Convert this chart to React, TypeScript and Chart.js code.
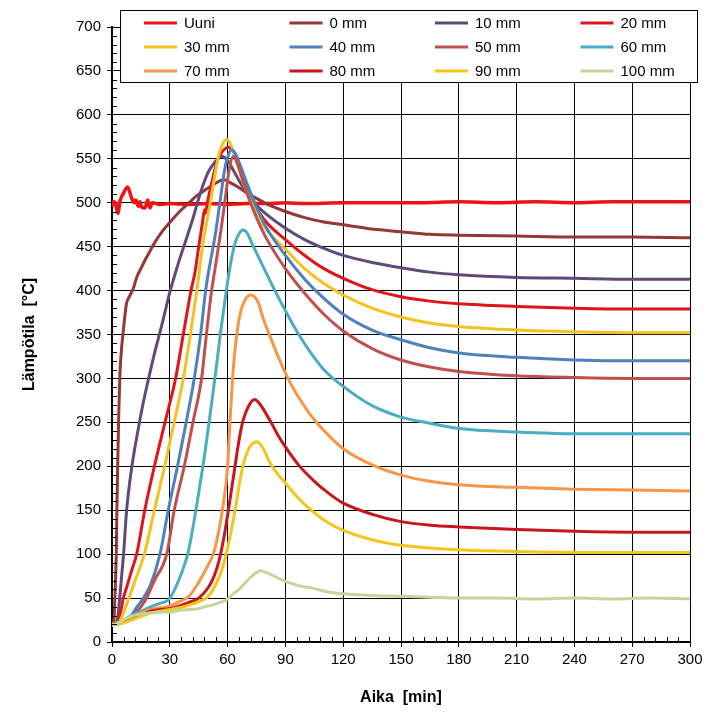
import React, { useEffect, useRef } from 'react';
import { Chart, registerables } from 'chart.js';

Chart.register(...registerables);

const FONT = '"Liberation Sans", Arial, Helvetica, sans-serif';

// ---------- data ----------
const SERIES_LABELS = ['Uuni', '0 mm', '10 mm', '20 mm', '30 mm', '40 mm', '50 mm', '60 mm', '70 mm', '80 mm', '90 mm', '100 mm'];
const SERIES_COLORS = ['#F21111', '#953735', '#604A7B', '#E0141B', '#F4C21F', '#4F81BD', '#C0504D', '#4BACC6', '#F79646', '#C8161E', '#F5C518', '#C3D69B'];

const X_TICKS = [0, 30, 60, 90, 120, 150, 180, 210, 240, 270, 300];
const Y_TICKS = [0, 50, 100, 150, 200, 250, 300, 350, 400, 450, 500, 550, 600, 650, 700];

const UUNI_T = [0, 0.5, 1.7, 3, 4.3, 6, 8.1, 10.2, 11.6, 12.3, 13.7, 14.5, 15.4, 17.1, 18.5, 19.7, 20.9, 25, 30, 40, 50, 60, 70, 80, 90, 100, 120, 140, 160, 180, 200, 220, 240, 260, 280, 300];
const UUNI_V = [495, 501, 500, 488, 503, 511, 518, 505, 500, 503, 496, 501, 495, 494, 503, 494, 500, 498, 499, 498, 499, 498, 499, 499, 500, 499, 500, 500, 500, 501, 500, 501, 500, 501, 501, 501];

const MM0_T = [0, 1, 1.5, 2.2, 2.6, 3, 3.5, 4.1, 5, 6, 7.5, 9, 11, 13, 15, 17, 19, 22, 26, 31, 36, 40, 44, 48, 53, 58, 62, 66, 70, 75, 80, 90, 100, 110, 120, 135, 150, 165, 180, 210, 240, 270, 300];
const MM0_V = [20, 25, 50, 100, 160, 205, 260, 305, 335, 357, 385, 393, 402, 416, 425, 434, 442, 454, 467, 480, 492, 500, 508, 514, 521, 526, 522, 517, 511, 505, 499, 490, 483, 478, 475, 470, 467, 464, 463, 462, 461, 461, 460];

const MM10_T = [0, 2, 3, 4, 5, 6, 7.6, 10, 13, 16, 19, 22, 26, 30, 34, 38, 42, 46, 50, 53.4, 57, 60, 63, 66, 70, 75, 80, 90, 100, 110, 120, 135, 150, 165, 180, 210, 240, 270, 300];
const MM10_V = [20, 21, 28, 50, 75, 100, 150, 195, 235, 270, 300, 328, 362, 398, 428, 455, 482, 512, 535, 546, 553, 548, 537, 525, 511, 497, 487, 471, 458, 448, 440, 432, 426, 421, 418, 415, 414, 413, 413];

const MM20_T = [0, 2, 4, 5.9, 8, 10, 12.8, 17, 22, 27.5, 33, 37, 41, 43, 45, 47, 48, 48.5, 49.5, 52, 55, 58, 60.5, 62.5, 64.5, 67, 70, 75, 80, 90, 100, 110, 120, 135, 150, 165, 180, 210, 240, 270, 300];
const MM20_V = [20, 20, 30, 50, 65, 80, 100, 150, 200, 250, 300, 350, 400, 420, 450, 478, 492, 488, 500, 525, 550, 560, 563, 560, 550, 533, 515, 494, 478, 458, 440, 425, 414, 401, 393, 388, 385, 382, 380, 379, 379];

const MM30_T = [0, 3, 5, 8.8, 12, 16.8, 22, 27.3, 32.3, 37, 40.7, 44, 47, 51, 55, 57, 59.5, 61.5, 63.5, 66, 70, 75, 80, 90, 100, 110, 120, 135, 150, 165, 180, 210, 240, 270, 300];
const MM30_V = [20, 20, 28, 50, 70, 100, 150, 200, 250, 300, 350, 400, 450, 500, 550, 565, 572, 567, 555, 537, 512, 488, 470, 447, 425, 408, 395, 380, 370, 363, 359, 355, 353, 352, 352];

const MM40_T = [0, 5, 10, 13, 16.3, 20, 24.9, 29.2, 34, 38.5, 42.7, 46, 48.6, 51, 53.5, 56, 58.5, 60.5, 62, 64, 67, 70, 75, 80, 90, 100, 110, 120, 135, 150, 165, 180, 210, 240, 270, 300];
const MM40_V = [20, 22, 30, 40, 50, 65, 100, 150, 200, 250, 300, 350, 400, 432, 462, 500, 538, 555, 560, 556, 540, 522, 495, 472, 440, 413, 391, 373, 355, 344, 335, 329, 324, 321, 320, 320];

const MM50_T = [0, 5, 10, 15, 17.9, 22, 28.4, 32.3, 37.5, 42, 46.5, 49, 51.7, 54, 56.5, 58.8, 61, 63, 65, 68, 71, 75, 80, 90, 100, 110, 120, 135, 150, 165, 180, 210, 240, 270, 300];
const MM50_V = [20, 22, 28, 40, 50, 70, 100, 150, 200, 250, 300, 350, 400, 432, 468, 505, 540, 553, 545, 525, 505, 483, 460, 425, 397, 373, 354, 334, 321, 313, 308, 303, 301, 300, 300];

const MM60_T = [0, 5, 10, 15, 20, 25, 28, 30, 33, 36, 39.3, 42, 45, 48, 51, 54, 56.5, 59, 61.5, 64, 66, 68, 70, 73, 78.5, 85, 90, 95, 101, 110, 120, 135, 150, 165, 180, 210, 240, 270, 300];
const MM60_V = [20, 24, 30, 35, 40, 44, 46, 50, 62, 78, 100, 130, 170, 212, 260, 310, 355, 395, 430, 455, 465, 469, 466, 452, 427, 398, 377, 357, 336, 310, 291, 269, 256, 249, 243, 239, 237, 237, 237];

const MM70_T = [0, 5, 10, 15, 20, 25, 30, 35, 40, 45, 50, 52.6, 55, 57.3, 60, 61.2, 62.6, 64.2, 66, 68.5, 72, 74, 76, 78.5, 82, 86, 90, 95, 100, 105, 112, 120, 135.6, 150, 165, 180, 210, 240, 270, 300];
const MM70_V = [20, 23, 28, 33, 37, 39, 41, 46, 52, 68, 88, 100, 122, 150, 200, 250, 300, 340, 368, 387, 395, 393, 386, 368, 348, 326, 306, 285, 268, 253, 236, 220, 201, 190, 183, 179, 176, 174, 173, 172];

const MM80_T = [0, 5, 10, 15, 20, 25, 30, 35, 40, 45, 50, 53, 55.5, 58, 60.4, 63.5, 65.8, 68, 71, 74, 77, 82, 86, 90, 97, 104.5, 112, 120, 135.6, 150, 165, 180, 210, 240, 270, 300];
const MM80_V = [20, 22, 27, 31, 35, 37, 38, 41, 45, 50, 62, 75, 92, 118, 150, 195, 228, 252, 269, 276, 270, 252, 236, 222, 201, 184, 170, 158, 145, 137, 133, 131, 128, 126, 125, 125];

const MM90_T = [0, 5, 10, 15, 20, 25, 30, 35, 40, 45, 50, 54, 57, 59.5, 62, 64.5, 66.5, 68.5, 71, 75, 78, 82, 86, 90, 97, 104.5, 112, 120, 135.6, 150, 165, 180, 210, 240, 270, 300];
const MM90_V = [20, 21, 25, 29, 33, 35, 37, 39, 42, 46, 52, 66, 82, 102, 128, 158, 185, 205, 220, 228, 222, 204, 191, 181, 163, 148, 136, 127, 116, 110, 107, 105, 103, 102, 102, 102];

const MM100_T = [0, 2, 5, 10, 15, 20, 25, 30, 35, 40, 45, 48, 52, 56, 60, 63, 66, 69, 72, 75, 77, 80, 85, 90, 97, 104.5, 112, 120, 135, 150, 165, 180, 200, 220, 240, 260, 280, 300];
const MM100_V = [18, 20, 24, 29, 32, 33, 34, 34, 36, 37, 38, 40, 42, 45, 49, 55, 60, 67, 74, 79, 81, 79, 74, 69, 64, 61, 57, 55, 53, 52, 51, 50, 50, 49, 50, 49, 50, 49];

const SERIES_T = [UUNI_T, MM0_T, MM10_T, MM20_T, MM30_T, MM40_T, MM50_T, MM60_T, MM70_T, MM80_T, MM90_T, MM100_T];
const SERIES_V = [UUNI_V, MM0_V, MM10_V, MM20_V, MM30_V, MM40_V, MM50_V, MM60_V, MM70_V, MM80_V, MM90_V, MM100_V];

// ---------- plugins ----------
const minorTicks = {
  id: 'minorTicks',
  afterDatasetsDraw(chart: any) {
    const { ctx, scales, chartArea } = chart;
    const x = scales.x;
    const y = scales.y;
    ctx.save();
    ctx.strokeStyle = '#000';
    ctx.lineWidth = 1;
    ctx.beginPath();
    for (let v = 10; v < 700; v += 10) {
      if (v % 50 === 0) continue;
      const py = Math.round(y.getPixelForValue(v)) + 0.5;
      ctx.moveTo(chartArea.left, py);
      ctx.lineTo(chartArea.left + 5, py);
    }
    for (let v = 6; v < 300; v += 6) {
      if (v % 30 === 0) continue;
      const px = Math.round(x.getPixelForValue(v)) + 0.5;
      ctx.moveTo(px, chartArea.bottom);
      ctx.lineTo(px, chartArea.bottom - 5);
    }
    ctx.stroke();
    ctx.restore();
  },
};

const boxLegend = {
  id: 'boxLegend',
  afterDraw(chart: any) {
    const { ctx } = chart;
    ctx.save();
    ctx.fillStyle = '#fff';
    ctx.fillRect(120, 10, 577, 72);
    ctx.strokeStyle = '#000';
    ctx.lineWidth = 1;
    ctx.strokeRect(120.5, 10.5, 577, 72);
    ctx.font = '15px ' + FONT;
    ctx.textBaseline = 'middle';
    ctx.textAlign = 'left';
    chart.data.datasets.forEach((ds: any, i: number) => {
      const col = i % 4;
      const row = Math.floor(i / 4);
      const x0 = 144 + col * 145.5;
      const y0 = 23 + row * 24;
      ctx.strokeStyle = ds.borderColor;
      ctx.lineWidth = 3;
      ctx.beginPath();
      ctx.moveTo(x0, y0);
      ctx.lineTo(x0 + 33, y0);
      ctx.stroke();
      ctx.fillStyle = '#000';
      ctx.fillText(ds.label, x0 + 40, y0 + 1);
    });
    ctx.restore();
  },
};

export default function App() {
  const ref = useRef<HTMLCanvasElement>(null);
  useEffect(() => {
    if (!ref.current) return;
    const datasets = SERIES_LABELS.map((label, i) => ({
      label,
      data: SERIES_T[i].map((t, k) => ({ x: t, y: SERIES_V[i][k] })),
      borderColor: SERIES_COLORS[i],
      backgroundColor: SERIES_COLORS[i],
      borderWidth: i === 0 ? 3.5 : 3,
      pointRadius: 0,
      fill: false,
      cubicInterpolationMode: 'monotone' as const,
      order: SERIES_LABELS.length - i,
    }));
    const chart = new Chart(ref.current, {
      type: 'line',
      data: { datasets },
      options: {
        responsive: false,
        animation: false,
        devicePixelRatio: 1,
        layout: { padding: { top: 27, right: 27, left: 0, bottom: 0 } },
        plugins: { legend: { display: false }, tooltip: { enabled: false } },
        scales: {
          x: {
            type: 'linear',
            min: 0,
            max: 300,
            afterBuildTicks: (s: any) => { s.ticks = X_TICKS.map((v) => ({ value: v })); },
            afterFit: (s: any) => { s.height = 85; },
            ticks: { font: { size: 15, family: FONT }, color: '#000', padding: 4, maxRotation: 0 },
            grid: { color: '#000', lineWidth: 1, tickLength: 5, tickColor: '#000' },
            border: { color: '#000', width: 2 },
            title: { display: true, text: 'Aika  [min]', color: '#000', font: { size: 16, weight: 'bold', family: FONT }, padding: { top: 0, bottom: 20 } },
          },
          y: {
            type: 'linear',
            min: 0,
            max: 700,
            afterBuildTicks: (s: any) => { s.ticks = Y_TICKS.map((v) => ({ value: v })); },
            afterFit: (s: any) => { s.width = 112; },
            ticks: { font: { size: 15, family: FONT }, color: '#000', padding: 6 },
            grid: { color: '#000', lineWidth: 1, tickLength: 5, tickColor: '#000' },
            border: { color: '#000', width: 2 },
            title: { display: true, text: 'Lämpötila  [°C]', color: '#000', font: { size: 16, weight: 'bold', family: FONT }, padding: { top: 20, bottom: 0 } },
          },
        },
      },
      plugins: [minorTicks, boxLegend],
    });
    return () => chart.destroy();
  }, []);
  return (
    <div style={{ position: 'absolute', left: 0, top: 0, width: 717, height: 727, background: '#fff' }}>
      <canvas ref={ref} width={717} height={727} style={{ display: 'block' }} />
    </div>
  );
}
